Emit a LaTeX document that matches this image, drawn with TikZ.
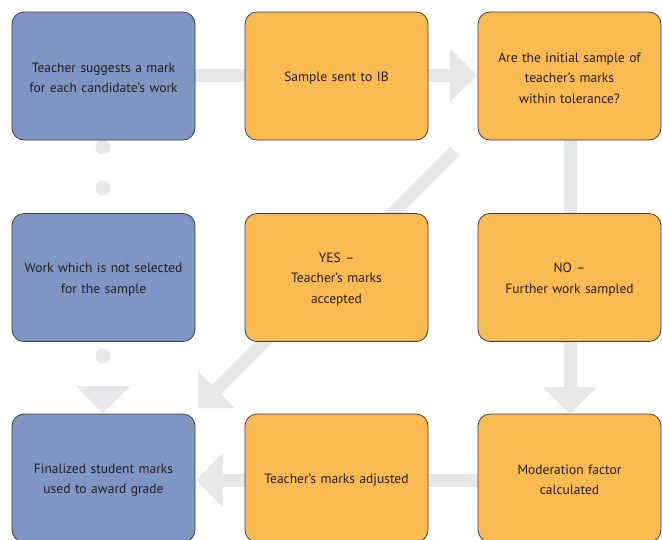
\documentclass[tikz,border=0pt]{standalone}
\usepackage{fontspec}
\setmainfont{PT Sans}
\definecolor{arrowgray}{HTML}{E6E7E8}
\definecolor{boxblue}{HTML}{7F95C3}
\definecolor{boxorange}{HTML}{F9BA52}
\definecolor{boxline}{HTML}{3F3F3F}
\definecolor{txt}{HTML}{231F20}
\begin{document}
\begin{tikzpicture}[x=1pt,y=-1pt,
  card/.style={draw=boxline, line width=0.8pt, rounded corners=12pt,
    minimum width=183pt, minimum height=128pt, inner sep=0pt},
  bluecard/.style={card, fill=boxblue},
  orangecard/.style={card, fill=boxorange},
  cardtext/.style={inner sep=0pt, text width=175pt, align=center, text=txt,
    font=\fontsize{13.5}{20.5}\selectfont, yshift=-2pt},
  bar/.style={draw=none, fill=arrowgray},
  dot/.style={circle, fill=arrowgray, minimum size=15pt, inner sep=0pt}]
\fill[white] (0,0) rectangle (662,539);
\useasboundingbox (0,0) rectangle (662,539);

% ---- gray connectors (behind boxes)
% top horizontal
\fill[bar] (190,68.5) rectangle (450,81.5);
\fill[bar] (450,48) -- (477,75) -- (450,102) -- cycle;
% right vertical
\fill[bar] (563.5,135) rectangle (576.5,387);
\fill[bar] (543,387) -- (570,414) -- (597,387) -- cycle;
% diagonal
\draw[arrowgray, line width=13pt] (216.5,389.5) -- (455,151);
\fill[bar] (198,408) -- (235,408) -- (198,371) -- cycle;
% bottom horizontal
\fill[bar] (223,473.5) rectangle (480,486.5);
\fill[bar] (223,453) -- (196,480) -- (223,507) -- cycle;
% left column dots and arrowhead
\node[dot] (d1) at (103,147) {};
\node[dot] (d2) at (103,188) {};
\node[dot] (d3) at (103,356) {};
\fill[bar] (76,386) -- (103,413) -- (130,386) -- cycle;

% ---- boxes
\node[bluecard] (teacher) at (103.5,76) {};
\node[orangecard] (sample) at (336.5,76) {};
\node[orangecard] (within) at (569.5,76) {};
\node[bluecard] (notsel) at (103.5,277.5) {};
\node[orangecard] (yes) at (336.5,277.5) {};
\node[orangecard] (no) at (569.5,277.5) {};
\node[bluecard] (final) at (103.5,478) {};
\node[orangecard] (adjusted) at (336.5,478) {};
\node[orangecard] (moder) at (569.5,478) {};

% ---- texts
\node[cardtext] (teacher-t) at (teacher.center) {Teacher suggests a mark\\for each candidate’s work};
\node[cardtext] (sample-t) at (sample.center) {Sample sent to IB};
\node[cardtext] (within-t) at (within.center) {Are the initial sample of\\teacher’s marks\\within tolerance?};
\node[cardtext] (notsel-t) at (notsel.center) {Work which is not selected\\for the sample};
\node[cardtext] (yes-t) at (yes.center) {YES –\\Teacher’s marks\\accepted};
\node[cardtext] (no-t) at (no.center) {NO –\\Further work sampled};
\node[cardtext] (final-t) at (final.center) {Finalized student marks\\used to award grade};
\node[cardtext] (adjusted-t) at (adjusted.center) {Teacher’s marks adjusted};
\node[cardtext] (moder-t) at (moder.center) {Moderation factor\\calculated};
\end{tikzpicture}
\end{document}
